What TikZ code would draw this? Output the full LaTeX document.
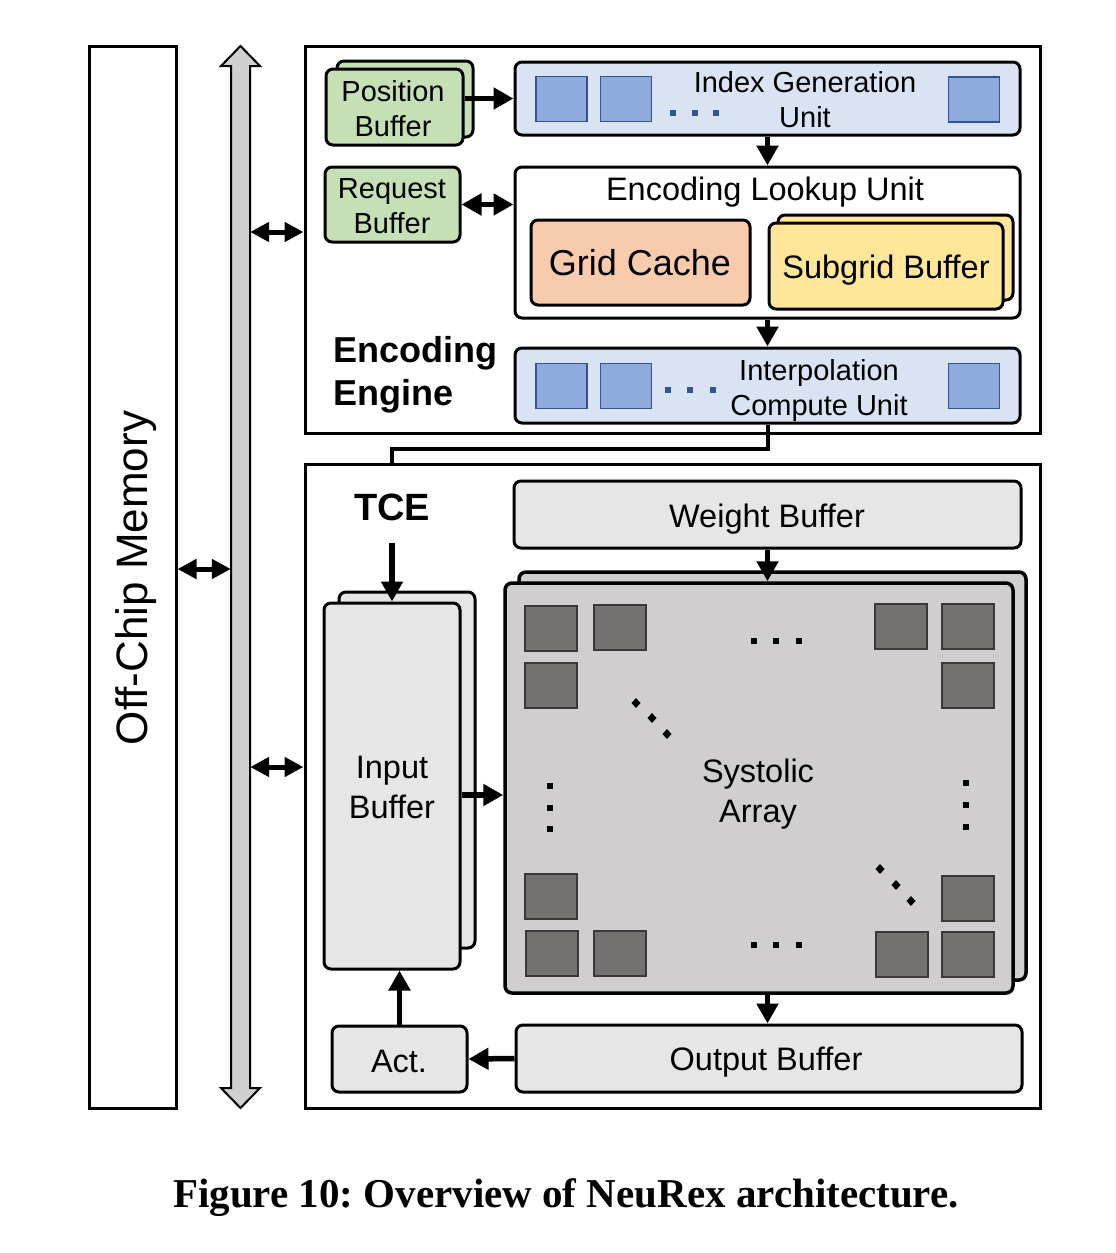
\documentclass[tikz,border=0pt]{standalone}
\usepackage{fontspec}
\setmainfont{Liberation Sans}
\newfontfamily\capfont{Liberation Serif}
\usetikzlibrary{arrows.meta,calc}

\definecolor{gfill}{HTML}{C5E0B4}
\definecolor{bfill}{HTML}{DAE3F3}
\definecolor{sqf}{HTML}{8FAADC}
\definecolor{sqb}{HTML}{2F5597}
\definecolor{lgray}{HTML}{E7E6E6}
\definecolor{safill}{HTML}{D0CECE}
\definecolor{pef}{HTML}{767171}
\definecolor{peb}{HTML}{3B3838}
\definecolor{orf}{HTML}{F8CBAD}
\definecolor{yef}{HTML}{FFE699}
\definecolor{busf}{HTML}{CFCFCF}

\newcommand\mydot[3]{\fill[#3] (#1-3,#2-3) rectangle (#1+3,#2+3);}
\newcommand\mydiam[2]{\fill (#1,#2-5) -- (#1+4.5,#2) -- (#1,#2+5) -- (#1-4.5,#2) -- cycle;}

\begin{document}
\begin{tikzpicture}[x=1pt,y=-1pt,
  blk/.style={draw,line width=3pt,rounded corners=7pt,inner sep=0pt},
  outbox/.style={draw,line width=3pt,inner sep=0pt},
  bsq/.style={draw=sqb,line width=1.5pt,fill=sqf,minimum width=51pt,minimum height=45pt,inner sep=0pt},
  pesq/.style={draw=peb,line width=2pt,fill=pef,minimum width=52pt,minimum height=45pt,inner sep=0pt},
  lbl/.style={anchor=base,align=center,inner sep=0pt},
  fA/.style={font=\fontsize{29}{35}\selectfont},
  fB/.style={font=\fontsize{32.5}{40}\selectfont},
  arr/.style={line width=5.5pt,-{Triangle[length=20pt,width=21pt]}},
  darr/.style={line width=5.5pt,{Triangle[length=20pt,width=21pt]}-{Triangle[length=20pt,width=21pt]}},
  sarr/.style={line width=5pt,{Triangle[length=19pt,width=19pt]}-{Triangle[length=19pt,width=19pt]}},
  ]
\useasboundingbox (0,0) rectangle (1116,1253);
\fill[white] (0,0) rectangle (1116,1253);

% Off-chip memory and bus
\node[outbox,minimum width=87pt,minimum height=1062pt] (mem) at (132.5,577) {};
\node[rotate=90,anchor=base,inner sep=0pt,font=\fontsize{44}{44}\selectfont] (memt) at (147,578) {Off-Chip Memory};
\node[inner sep=0pt,minimum width=19pt,minimum height=1062pt] (bus) at (240.5,577) {};
\draw[line width=2pt,fill=busf,line join=miter] (240.5,46) -- (260,66) -- (250,66) -- (250,1088) -- (260,1088) -- (240.5,1108) -- (221,1088) -- (231,1088) -- (231,66) -- (221,66) -- cycle;

% engine frames
\node[outbox,minimum width=735pt,minimum height=387pt] (ee) at (672.5,239.5) {};
\node[outbox,minimum width=735pt,minimum height=644pt] (tce) at (672.5,786) {};

\coordinate (ya) at (0,232);
\coordinate (yb) at (0,569);
\coordinate (yc) at (0,767);
\draw[sarr] (bus.east |- ya) -- (ee.west |- ya);
\draw[sarr] (mem.east |- yb) -- (bus.west |- yb);
\draw[sarr] (bus.east |- yc) -- (tce.west |- yc);

% Encoding engine
\node[blk,fill=gfill,minimum width=136pt,minimum height=76pt] (posbk) at (405,99) {};
\node[blk,fill=gfill,minimum width=137pt,minimum height=76pt] (pos) at (394.5,107) {};
\node[lbl,fA] (post) at (393,136) {Position\\Buffer};

\node[blk,fill=bfill,minimum width=505pt,minimum height=73pt] (igu) at (767.5,98.5) {};
\node[bsq] (ig1) at (561.5,99) {};
\node[bsq] (ig2) at (626,99) {};
\node[bsq] (ig3) at (974,99.5) {};
\mydot{673}{113}{sqb}\mydot{695}{113}{sqb}\mydot{716}{113}{sqb}
\node[lbl,fA] (igut) at (805,127) {Index Generation\\Unit};

\node[blk,fill=gfill,minimum width=135pt,minimum height=75pt] (req) at (392.5,204.5) {};
\node[lbl,fA] (reqt) at (392,233) {Request\\Buffer};

\node[blk,fill=white,minimum width=505pt,minimum height=151pt] (elu) at (767.5,242.5) {};
\node[lbl,fB] (elut) at (765,200) {Encoding Lookup Unit};
\node[blk,fill=orf,minimum width=219pt,minimum height=85pt] (gc) at (640.5,262.5) {};
\node[lbl,font=\fontsize{36}{40}\selectfont] (gct) at (640,275) {Grid Cache};
\node[blk,fill=yef,minimum width=235pt,minimum height=85pt] (sgbk) at (895.5,257.5) {};
\node[blk,fill=yef,minimum width=234pt,minimum height=86pt] (sg) at (886,266) {};
\node[lbl,fB] (sgt) at (886,278) {Subgrid Buffer};

\node[blk,fill=bfill,minimum width=505pt,minimum height=75pt] (icu) at (767.5,385.5) {};
\node[bsq] (ic1) at (561.5,386) {};
\node[bsq] (ic2) at (626,386) {};
\node[bsq] (ic3) at (974,386) {};
\mydot{668}{390}{sqb}\mydot{690}{390}{sqb}\mydot{713}{390}{sqb}
\node[lbl,fA] (icut) at (819,415) {Interpolation\\Compute Unit};

\node[anchor=base west,align=left,inner sep=0pt,font=\bfseries\fontsize{36}{43}\selectfont] (eet) at (333,405) {Encoding\\Engine};

\draw[arr] (pos.east |- igu.west) -- (igu.west);
\draw[darr] (req.east) -- (req.east -| elu.west);
\draw[arr] (igu.south) -- (elu.north);
\draw[arr] (elu.south) -- (icu.north);

% TCE
\node[lbl,font=\bfseries\fontsize{38}{40}\selectfont] (tcet) at (392,520) {TCE};
\coordinate (cj) at (0,449);
\draw[line width=4pt] (icu.south) -- (icu.south |- cj) -| (tcet.north |- tce.north);

\node[blk,fill=lgray,minimum width=507pt,minimum height=67pt] (wb) at (767.5,514.5) {};
\node[lbl,fB] (wbt) at (767,527) {Weight Buffer};

\node[blk,line width=3.5pt,fill=safill,minimum width=507pt,minimum height=408pt] (sabk) at (772.5,776) {};
\node[blk,line width=3.5pt,fill=safill,minimum width=508pt,minimum height=410pt] (sa) at (759,788) {};
\node[pesq] (p1) at (550.5,628) {};
\node[pesq] (p2) at (620,627.5) {};
\node[pesq] (p3) at (900.5,626.5) {};
\node[pesq] (p4) at (967.5,626.5) {};
\node[pesq] (p5) at (550.5,685.5) {};
\node[pesq] (p6) at (967.5,685.5) {};
\node[pesq] (p7) at (551,896.5) {};
\node[pesq] (p8) at (967.5,898.5) {};
\node[pesq] (p9) at (551.5,953) {};
\node[pesq] (p10) at (620,953.5) {};
\node[pesq] (p11) at (901.5,954.5) {};
\node[pesq] (p12) at (967.5,954.5) {};
\mydot{754}{641}{black}\mydot{776}{641}{black}\mydot{799}{641}{black}
\mydot{754}{945}{black}\mydot{776}{945}{black}\mydot{799}{945}{black}
\mydot{550}{786}{black}\mydot{550}{808}{black}\mydot{550}{829}{black}
\mydot{966}{783}{black}\mydot{966}{805}{black}\mydot{966}{827}{black}
\mydiam{636}{703}\mydiam{652}{718}\mydiam{667}{734}
\mydiam{880}{869}\mydiam{896}{885}\mydiam{911}{901}
\node[lbl,fB] (sat) at (758,822) {Systolic\\Array};

\node[blk,fill=lgray,minimum width=136pt,minimum height=356pt] (inbk) at (407,770) {};
\node[blk,fill=lgray,minimum width=136pt,minimum height=366pt] (inb) at (392,786) {};
\node[lbl,fB] (inbt) at (392,818) {Input\\Buffer};

\node[blk,fill=lgray,minimum width=135pt,minimum height=66pt] (act) at (399.5,1059) {};
\node[lbl,fB] (actt) at (399,1072) {Act.};
\node[blk,fill=lgray,minimum width=506pt,minimum height=67pt] (ob) at (769,1058.5) {};
\node[lbl,fB] (obt) at (766,1070) {Output Buffer};

\coordinate (yi) at (0,795);
\draw[arr] ($(tcet.south)+(0,22)$) -- (inb.north);
\draw[arr] (wb.south) -- (wb.south |- sa.north);
\draw[arr] (inb.east |- yi) -- (sa.west |- yi);
\draw[arr] (wb.south |- sa.south) -- (wb.south |- ob.north);
\draw[arr] (act.north) -- (act.north |- inb.south);
\draw[arr] (ob.west) -- (act.east);

% caption
\node[anchor=base,inner sep=0pt,font=\capfont\bfseries\fontsize{41}{41}\selectfont\frenchspacing] (cap) at (566,1207) {Figure 10: Overview of NeuRex architecture.};
\end{tikzpicture}
\end{document}
